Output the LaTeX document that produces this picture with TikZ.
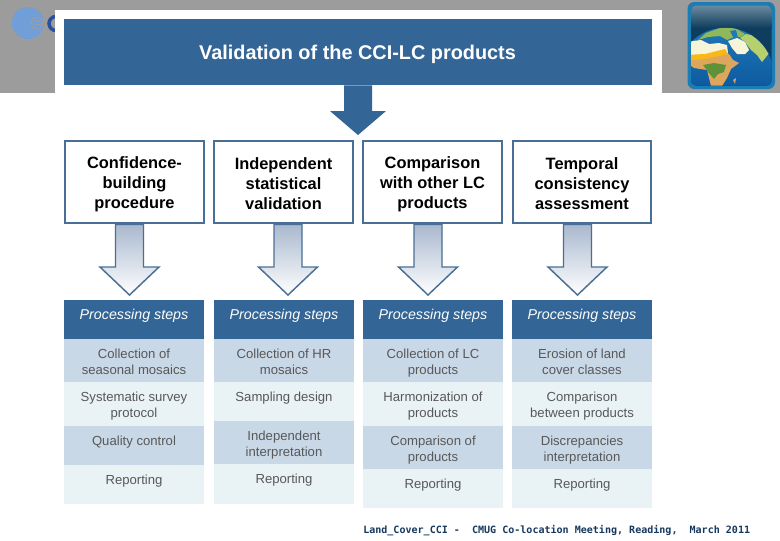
\documentclass[tikz,border=0pt]{standalone}
\usepackage{fontspec}
\setmainfont{Liberation Sans}
\newfontfamily\footfont{DejaVu Sans Mono}
\usetikzlibrary{calc}
\definecolor{bandgrey}{HTML}{9C9C9C}
\definecolor{esablue}{HTML}{336597}
\definecolor{boxedge}{HTML}{4A6F96}
\definecolor{rowdark}{HTML}{C9D8E7}
\definecolor{rowlight}{HTML}{E9F2F5}
\definecolor{rowtext}{HTML}{585858}
\definecolor{foottext}{HTML}{16385E}
\definecolor{logolight}{HTML}{6F9FDC}
\definecolor{logodark}{HTML}{2B4F9E}
\definecolor{iconedge}{HTML}{1B7DB3}
\definecolor{skytop}{HTML}{6A8A9E}
\definecolor{skybot}{HTML}{0F3D5E}
\definecolor{seatop}{HTML}{1F78B8}
\definecolor{seabot}{HTML}{0E5AA0}
\definecolor{landgreen}{HTML}{8FB85A}
\definecolor{landcream}{HTML}{F8F4D8}
\definecolor{landlime}{HTML}{B6D06E}
\definecolor{landyellow}{HTML}{F8B818}
\definecolor{landtan}{HTML}{DDA65C}
\definecolor{landforest}{HTML}{5F9238}
\definecolor{landsand}{HTML}{C9A868}
\definecolor{arrowtop}{HTML}{A9B8CE}
\newcommand{\lift}{\rule{0pt}{11.8pt}}
\tikzset{
  x=0.75pt,y=-0.75pt,
  titlebar/.style={draw=none,fill=esablue,inner sep=0pt,minimum width=441pt,minimum height=49.5pt},
  titletext/.style={inner sep=0pt,text=white,font=\fontsize{14.9}{18}\selectfont\bfseries},
  methodbox/.style={draw=boxedge,line width=1.6pt,fill=white,inner sep=0pt,align=center,minimum width=104pt,minimum height=61.8pt,font=\fontsize{12.3}{15}\selectfont\bfseries},
  headcell/.style={anchor=north,inner sep=0pt,text=white,yshift=-0.75pt,font=\fontsize{10.7}{12}\selectfont\itshape},
  rowcell/.style={anchor=north,inner sep=0pt,align=center,text=rowtext,yshift=-1.5pt,font=\fontsize{9.85}{12}\selectfont},
  blockarrow/.style={draw=boxedge,line width=1.1pt,top color=arrowtop,bottom color=white,line join=miter},
}
\newcommand{\blockarr}[2]{%
  \draw[blockarrow] ($(#2 |- #1.south)+(-14,0)$) -- ($(#2)+(-14,-28)$) -- ($(#2)+(-29.5,-28)$) -- (#2) -- ($(#2)+(29.5,-28)$) -- ($(#2)+(14,-28)$) -- ($(#2 |- #1.south)+(14,0)$) -- cycle;}
\newcommand{\tablecell}[6]{% name,x0,y0,x1,y1,colour
  \fill[#6] (#2,#3) rectangle (#4,#5);
  \coordinate (#1) at ({(#2+#4)/2},{#3+8});}
\begin{document}
\begin{tikzpicture}
\useasboundingbox (0,0) rectangle (780,540);
\fill[white] (0,0) rectangle (780,540);
\fill[bandgrey] (0,0) rectangle (780,92.5);
% ESA logo, partly hidden
\fill[logolight] (28,23) circle (16);
\foreach \r in {15,12.5,10,7.5,5,2.5}{\draw[logolight!55!bandgrey,line width=0.35pt,dash pattern=on 0.8pt off 0.8pt] (28,23) circle (\r);}
\fill[bandgrey] (37,23) circle (6.5);
\draw[logolight,line width=1.5pt] (41,21) arc (-30:-330:4.3);
\draw[logolight,line width=1pt] (33,23) -- (41,23);
\draw[logodark,line width=2.6pt] (56,16.5) arc (-90:-270:7);
% white panel
\fill[white] (55,10) rectangle (662,92.5);
% globe icon
\fill[iconedge,rounded corners=5pt] (687.5,2) rectangle (775,89);
\begin{scope}
\clip[rounded corners=3.5pt] (691,5.5) rectangle (771.5,85.5);
\fill[skybot] (691,5.5) rectangle (771.5,85.5);
\shade[top color=skytop,bottom color=skybot] (691,5.5) rectangle (771.5,28);
\clip (725.4,76.2) circle (48.5);
\shade[top color=seatop,bottom color=seabot] (670,25) rectangle (775,86);
% Europe
\fill[landgreen] (698,40) -- (706,33) -- (720,28) -- (735,28) -- (745,34) -- (741,37) -- (734,37) -- (727,40) -- (720,36) -- (708,37) -- cycle;
\fill[seatop] (730,31) -- (736,30) -- (738,38) -- (734,39) -- cycle;
% Arabia and Asia
\fill[landcream] (728,41) -- (737,38) -- (745,42) -- (749,50) -- (745,54) -- (737,54) -- (732,48) -- cycle;
\fill[landlime] (740,38) -- (746,34) -- (756,36) -- (770,52) -- (762,62) -- (757,55) -- (751,50) -- (745,42) -- cycle;
% North Africa
\fill[landcream] (685,42) -- (701,40) -- (709,44) -- (719,43) -- (727,45) -- (728,53) -- (690,59) -- cycle;
\fill[landyellow] (685,55) -- (705,54) -- (725,49) -- (729,55) -- (716,58) -- (700,60) -- (685,62) -- cycle;
\fill[landtan] (685,61) -- (705,59) -- (729,54) -- (733,60) -- (739,63) -- (731,69) -- (727,78) -- (722,86) -- (711,86) -- (707,70) -- (694,68) -- cycle;
\fill[landforest] (703,65) -- (714,63) -- (726,65) -- (724,72) -- (718,74) -- (714,79) -- (708,72) -- cycle;
\fill[landsand] (733,80) -- (736,78) -- (735,84) -- cycle;
\end{scope}
% title
\node[titlebar] (title) at (358,52) {};
\node[titletext] (titlelabel) at (357.5,54.5) {Validation of the CCI-LC products};
% method boxes
\node[methodbox] (b1) at (134.5,182.2) {\lift Confidence-\\building\\procedure};
\node[methodbox] (b2) at (283.5,182.2) {\lift Independent\\statistical\\validation};
\node[methodbox] (b3) at (432.5,182.2) {\lift Comparison\\with other LC\\products};
\node[methodbox] (b4) at (582,182.2) {\lift Temporal\\consistency\\assessment};
% big arrow
\coordinate (bigtip) at (358,135);
\fill[esablue] ($(bigtip |- title.south)+(-14,0)$) -- ($(bigtip)+(-14,-24)$) -- ($(bigtip)+(-28,-24)$) -- (bigtip) -- ($(bigtip)+(28,-24)$) -- ($(bigtip)+(14,-24)$) -- ($(bigtip |- title.south)+(14,0)$) -- cycle;
% block arrows
\coordinate (t1) at (129.5,295);
\coordinate (t2) at (288,295);
\coordinate (t3) at (428,295);
\coordinate (t4) at (577.5,295);
\blockarr{b1}{t1}
\blockarr{b2}{t2}
\blockarr{b3}{t3}
\blockarr{b4}{t4}
% column 1
\tablecell{h1}{64}{300}{204}{339}{esablue}
\tablecell{c11}{64}{339}{204}{382}{rowdark}
\tablecell{c12}{64}{382}{204}{426}{rowlight}
\tablecell{c13}{64}{426}{204}{465}{rowdark}
\tablecell{c14}{64}{465}{204}{504}{rowlight}
% column 2
\tablecell{h2}{214}{300}{354}{339}{esablue}
\tablecell{c21}{214}{339}{354}{382}{rowdark}
\tablecell{c22}{214}{382}{354}{421}{rowlight}
\tablecell{c23}{214}{421}{354}{464}{rowdark}
\tablecell{c24}{214}{464}{354}{504}{rowlight}
% column 3
\tablecell{h3}{363}{300}{503}{339}{esablue}
\tablecell{c31}{363}{339}{503}{382}{rowdark}
\tablecell{c32}{363}{382}{503}{426}{rowlight}
\tablecell{c33}{363}{426}{503}{469}{rowdark}
\tablecell{c34}{363}{469}{503}{508}{rowlight}
% column 4
\tablecell{h4}{512}{300}{652}{339}{esablue}
\tablecell{c41}{512}{339}{652}{382}{rowdark}
\tablecell{c42}{512}{382}{652}{426}{rowlight}
\tablecell{c43}{512}{426}{652}{469}{rowdark}
\tablecell{c44}{512}{469}{652}{508}{rowlight}
% texts
\foreach \h in {h1,h2,h3,h4}{\node[headcell] (\h t) at (\h) {Processing steps};}
\node[rowcell] (c11t) at (c11) {Collection of\\seasonal mosaics};
\node[rowcell] (c12t) at (c12) {Systematic survey\\protocol};
\node[rowcell] (c13t) at (c13) {Quality control};
\node[rowcell] (c14t) at (c14) {Reporting};
\node[rowcell] (c21t) at (c21) {Collection of HR\\mosaics};
\node[rowcell] (c22t) at (c22) {Sampling design};
\node[rowcell] (c23t) at (c23) {Independent\\interpretation};
\node[rowcell] (c24t) at (c24) {Reporting};
\node[rowcell] (c31t) at (c31) {Collection of LC\\products};
\node[rowcell] (c32t) at (c32) {Harmonization of\\products};
\node[rowcell] (c33t) at (c33) {Comparison of\\products};
\node[rowcell] (c34t) at (c34) {Reporting};
\node[rowcell] (c41t) at (c41) {Erosion of land\\cover classes};
\node[rowcell] (c42t) at (c42) {Comparison\\between products};
\node[rowcell] (c43t) at (c43) {Discrepancies\\interpretation};
\node[rowcell] (c44t) at (c44) {Reporting};
% footer
\node[inner sep=0pt,anchor=west,text=foottext,font=\footfont\bfseries\fontsize{7.53}{9}\selectfont] (foot) at (363,530.5) {Land\_Cover\_CCI -\ \ CMUG Co-location Meeting, Reading,\ \ March 2011};
\end{tikzpicture}
\end{document}
